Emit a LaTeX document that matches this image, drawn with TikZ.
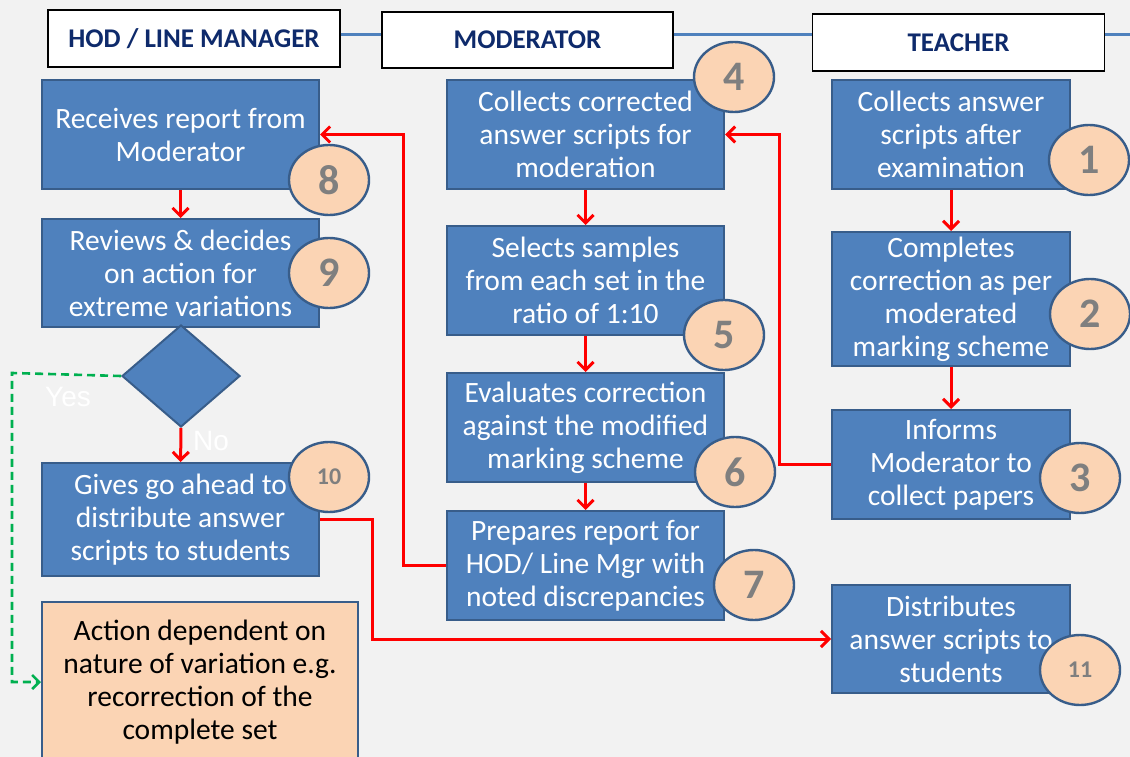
\documentclass[tikz,border=0pt]{standalone}
\usepackage{fontspec}
\setmainfont{Carlito}
\newfontfamily\arialf{Liberation Sans}
\usetikzlibrary{shapes.geometric,arrows.meta}
\definecolor{bg}{HTML}{F2F2F2}
\definecolor{boxblue}{HTML}{4F81BD}
\definecolor{boxedge}{HTML}{385D8A}
\definecolor{peach}{HTML}{FBD4B4}
\definecolor{navy}{HTML}{0E2A6B}
\definecolor{numgray}{HTML}{7F7F7F}
\definecolor{gr}{HTML}{00B050}
\definecolor{redline}{HTML}{FF0000}
\begin{document}
\begin{tikzpicture}[x=1pt,y=-1pt,
  stepbox/.style={draw=boxedge, line width=2pt, fill=boxblue, text=white, align=center,
    font=\fontsize{29.5}{33}\selectfont, inner sep=0pt, minimum width=277pt},
  hdr/.style={draw=black, line width=1.2pt, fill=white, text=navy,
    font=\bfseries\fontsize{27}{30}\selectfont, minimum width=292pt, minimum height=57pt, inner sep=0pt},
  num/.style={ellipse, draw=boxedge, line width=2.4pt, fill=peach, text=numgray,
    font=\bfseries\fontsize{42}{42}\selectfont, minimum width=80pt, minimum height=70pt, inner sep=0pt},
  smallnum/.style={num, font=\bfseries\fontsize{24}{24}\selectfont},
  flow/.style={draw=redline, line width=3pt, -{Straight Barb[length=8pt,width=16pt,line width=3pt]}},
  yesline/.style={draw=gr, line width=2.6pt, dash pattern=on 8pt off 5pt, -{Straight Barb[length=7pt,width=14pt,line width=2.6pt]}},
  lbl/.style={text=white, font=\arialf\fontsize{28}{28}\selectfont, inner sep=0pt}
]
\fill[bg] (0,0) rectangle (1130,757);
\useasboundingbox (0,0) rectangle (1130,757);

% headers
\node[hdr] (hod) at (194,38.5) {HOD / LINE MANAGER};
\node[hdr, minimum width=291pt, minimum height=56pt] (mod) at (527.5,40) {MODERATOR};
\node[hdr] (tea) at (958.5,42.5) {TEACHER};
\coordinate (hend) at (1130,35);
\draw[boxblue, line width=3pt] (hod.east |- 0,35) -- (mod.west |- 0,35);
\draw[boxblue, line width=3pt] (mod.east |- 0,35) -- (tea.west |- 0,35);
\draw[boxblue, line width=3pt] (tea.east |- 0,35) -- (hend);

% column 1
\node[stepbox, minimum height=109pt] (b8) at (180.5,134.5) {Receives report from\\Moderator};
\node[stepbox, minimum height=108pt] (b9) at (180.5,273) {Reviews \& decides\\on action for\\extreme variations};
\node[diamond, draw=boxedge, line width=2pt, fill=boxblue, minimum width=118pt, minimum height=102pt, inner sep=0pt] (dia) at (181,376) {};
\node[stepbox, minimum height=113pt] (b10) at (180.5,519.5) {Gives go ahead to\\distribute answer\\scripts to students};
\node[draw=boxedge, line width=2pt, fill=peach, text=black, align=center,
  font=\fontsize{29.5}{33}\selectfont, inner sep=0pt, minimum width=316pt, minimum height=160pt] (act) at (200,682)
  {Action dependent on\\nature of variation e.g.\\recorrection of the\\complete set};

% column 2
\node[stepbox, minimum height=109pt] (b4) at (585.5,134.5) {Collects corrected\\answer scripts for\\moderation};
\node[stepbox, minimum height=109pt] (b5) at (585.5,280.5) {Selects samples\\from each set in the\\ratio of 1:10};
\node[stepbox, minimum height=109pt] (b6) at (585.5,427.5) {Evaluates correction\\against the modified\\marking scheme};
\node[stepbox, minimum height=109pt] (b7) at (585.5,565.5) {Prepares report for\\HOD/ Line Mgr with\\noted discrepancies};

% column 3
\node[stepbox, minimum width=238pt, minimum height=109pt] (b1) at (951,134.5) {Collects answer\\scripts after\\examination};
\node[stepbox, minimum width=238pt, minimum height=134pt] (b2) at (951,299) {Completes\\correction as per\\moderated\\marking scheme};
\node[stepbox, minimum width=238pt, minimum height=109pt] (b3) at (951,464.5) {Informs\\Moderator to\\collect papers};
\node[stepbox, minimum width=238pt, minimum height=108pt] (b11) at (951,639) {Distributes\\answer scripts to\\students};

% connectors
\draw[flow] (b8) -- (b9);
\draw[flow] (dia) -- (b10);
\draw[flow] (b4) -- (b5);
\draw[flow] (b5) -- (b6);
\draw[flow] (b6) -- (b7);
\draw[flow] (b1) -- (b2);
\draw[flow] (b2) -- (b3);
\draw[flow] (b7.west) -- ++(-43,0) |- (b8.east);
\draw[flow] (b3.west) -- ++(-52,0) |- (b4.east);
\draw[flow] (b10.east) -- ++(52,0) |- (b11.west);
\coordinate (ycorner) at (12,373);
\draw[yesline] (dia.west) -- (ycorner) |- (act.west);

\node[lbl] (no) at (211,441) {No};
\node[lbl] (yes) at (68,397) {Yes};

% numbers
\node[num] (n4) at (734,77) {4};
\node[num] (n1) at (1089,160) {1};
\node[num] (n8) at (329,180) {8};
\node[num] (n9) at (329,273) {9};
\node[num] (n2) at (1090,314) {2};
\node[num] (n5) at (724,335) {5};
\node[num] (n6) at (735,472) {6};
\node[num] (n3) at (1080,478) {3};
\node[smallnum] (n10) at (329,477) {10};
\node[num] (n7) at (754,585) {7};
\node[smallnum] (n11) at (1080,670) {11};
\end{tikzpicture}
\end{document}
